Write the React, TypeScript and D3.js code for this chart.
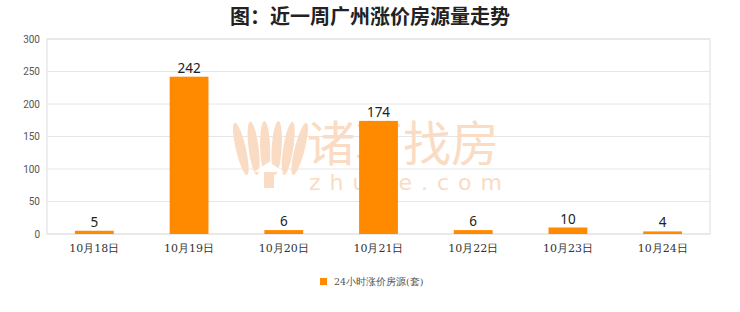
import React from "react";
import * as d3 from "d3";

const categories = ["10月18日", "10月19日", "10月20日", "10月21日", "10月22日", "10月23日", "10月24日"];
const values = [5, 242, 6, 174, 6, 10, 4];
const yTicks = [0, 50, 100, 150, 200, 250, 300];
const title = "图：近一周广州涨价房源量走势";
const seriesName = "24小时涨价房源(套)";

const W = 740, H = 312;
const plot = { left: 47, right: 710, top: 39, bottom: 234 };

export default function App() {
  const x = d3.scaleBand<string>().domain(categories).range([plot.left, plot.right]).paddingInner(0.59).paddingOuter(0.295);
  const y = d3.scaleLinear().domain([0, 300]).range([plot.bottom, plot.top]);
  const wm = "#f9dcc3";
  const petals = [-22, -12, -3, 6, 15, 24];
  return (
    <svg width={W} height={H} style={{ position: "absolute", left: 0, top: 0, background: "#fff" }}>
      <rect x={0} y={0} width={W} height={H} fill="#fff" />
      <text x={370} y={24} textAnchor="middle" fontSize={20} fontWeight="bold" fill="#222" fontFamily="'Noto Sans CJK SC', sans-serif">{title}</text>
      {yTicks.map((t) => (
        <g key={t}>
          <line x1={plot.left} x2={plot.right} y1={y(t)} y2={y(t)} stroke="#e6e6e6" strokeWidth={1} />
          <text x={40} y={y(t) + 3.5} textAnchor="end" fontSize={10} fill="#555" fontFamily="Roboto, 'DejaVu Sans', sans-serif">{t}</text>
        </g>
      ))}
      <rect x={plot.left} y={plot.top} width={plot.right - plot.left} height={plot.bottom - plot.top} fill="none" stroke="#dedede" strokeWidth={1} />
      {/* watermark */}
      <g fill={wm}>
        {petals.map((dx, i) => (
          <ellipse key={i} cx={269 + dx} cy={148} rx={5} ry={27} transform={`rotate(${dx * 0.6} ${269 + dx} 175)`} />
        ))}
        <path d="M254 172 L269 162 L284 172 Z" fill="#fff" />
        <rect x={264} y={172} width={10} height={16} fill={wm} />
        <text x={307} y={161} fontSize={48} fontFamily="'Noto Sans CJK SC', sans-serif">诸葛找房</text>
        <text x={309} y={190} fontSize={22} letterSpacing={9} fontFamily="'DejaVu Sans', sans-serif">zhuge.com</text>
      </g>
      {categories.map((c, i) => (
        <g key={c}>
          <rect x={x(c)} y={y(values[i])} width={x.bandwidth()} height={plot.bottom - y(values[i])} fill="#ff8a00" />
          <text x={(x(c) as number) + x.bandwidth() / 2} y={y(values[i]) - 4} textAnchor="middle" fontSize={13.5} fill="#222" fontFamily="'Noto Sans', sans-serif">{values[i]}</text>
          <text x={(x(c) as number) + x.bandwidth() / 2} y={252} textAnchor="middle" fontSize={11} fill="#333" fontFamily="'DejaVu Serif', serif">{c}</text>
        </g>
      ))}
      <rect x={320} y={278} width={7} height={7} fill="#ff8a00" />
      <text x={334} y={285} fontSize={9.5} fill="#555" fontFamily="'DejaVu Serif', serif">{seriesName}</text>
    </svg>
  );
}
